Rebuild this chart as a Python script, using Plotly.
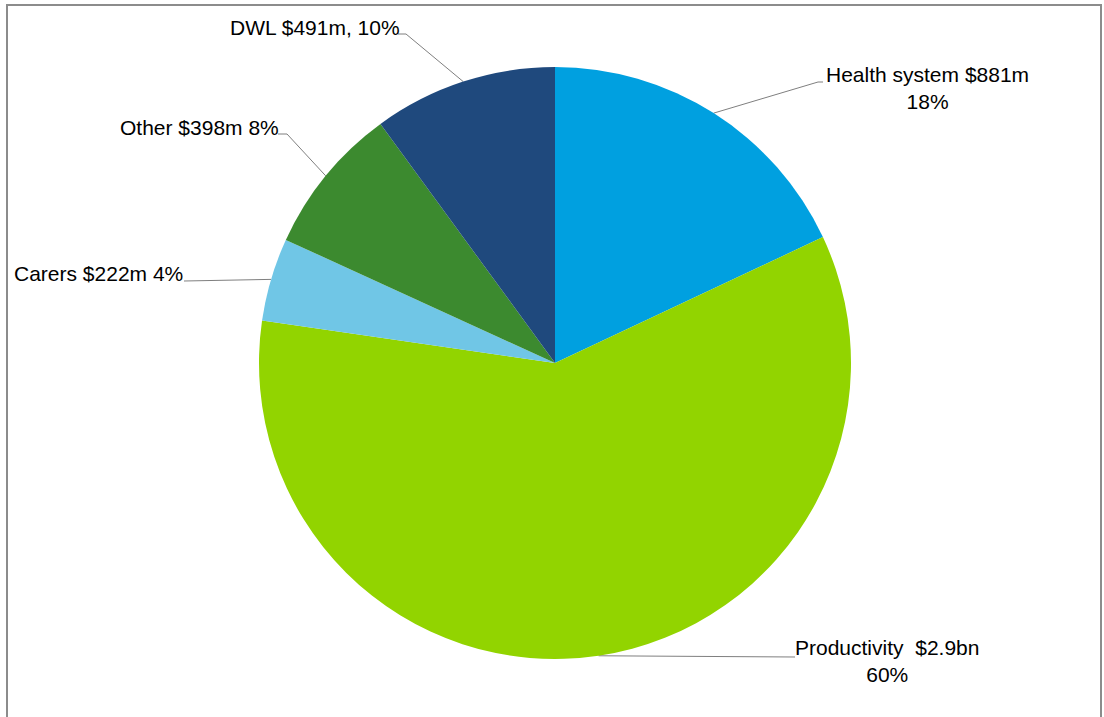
import math
import plotly.graph_objects as go

# ---- data ----
categories = ["Health system", "Productivity", "Carers", "Other", "DWL"]
values = [881, 2900, 222, 398, 491]
label_texts = [
    "Health system $881m<br>18%",
    "Productivity\u00a0 $2.9bn<br>60%",
    "Carers $222m 4%",
    "Other $398m 8%",
    "DWL $491m, 10%",
]
colors = ["#00A0E0", "#92D400", "#70C6E6", "#3C8A2F", "#1F497D"]

# ---- layout geometry (pixels) ----
W, H = 1104, 717
CX, CY, R = 555, 363, 296

# label placement: (x, y, xanchor) and elbow point near label
label_pos = [
    (927, 88, "center"),
    (887, 661, "center"),
    (12, 273, "left"),
    (118, 127, "left"),
    (228, 27, "left"),
]
elbows = [
    [(823, 82), (818, 82)],
    [(795, 657)],
    [(184, 281)],
    [(278, 134), (287, 134)],
    [(398, 34), (406, 34)],
]

fig = go.Figure()

fig.add_trace(go.Pie(
    labels=categories,
    values=values,
    sort=False,
    direction="clockwise",
    rotation=0,
    textinfo="none",
    hoverinfo="label+value",
    marker=dict(colors=colors, line=dict(width=0)),
    showlegend=False,
    domain=dict(x=[(CX - R) / W, (CX + R) / W],
                y=[(H - CY - R) / H, (H - CY + R) / H]),
))

# leader lines computed from slice mid-angles
total = sum(values)
cum = 0
for i, v in enumerate(values):
    mid = (cum + v / 2) / total * 2 * math.pi
    cum += v
    ex = CX + R * math.sin(mid)
    ey = CY - R * math.cos(mid)
    pts = elbows[i] + [(ex, ey)]
    fig.add_trace(go.Scatter(
        x=[p[0] for p in pts], y=[p[1] for p in pts],
        mode="lines", line=dict(color="#7f7f7f", width=1),
        hoverinfo="skip", showlegend=False,
    ))
    lx, ly, anc = label_pos[i]
    fig.add_annotation(
        x=lx, y=ly, xref="x", yref="y", text=label_texts[i],
        showarrow=False, xanchor=anc, yanchor="middle", align="center",
        font=dict(family="Arial, Liberation Sans, sans-serif", size=21, color="#000000"),
    )

fig.update_layout(
    width=W, height=H,
    margin=dict(l=0, r=0, t=0, b=0),
    paper_bgcolor="white", plot_bgcolor="rgba(0,0,0,0)",
    xaxis=dict(range=[0, W], visible=False, domain=[0, 1], fixedrange=True),
    yaxis=dict(range=[H, 0], visible=False, domain=[0, 1], fixedrange=True),
    shapes=[dict(type="rect", xref="x", yref="y", x0=7, y0=5, x1=1101, y1=730,
                 line=dict(color="#8c8c8c", width=2), fillcolor="rgba(0,0,0,0)")],
)

fig.write_html(
    "out.html",
    config={"displayModeBar": False},
    post_script="document.body.style.margin='0';document.body.style.overflow='hidden';",
)
